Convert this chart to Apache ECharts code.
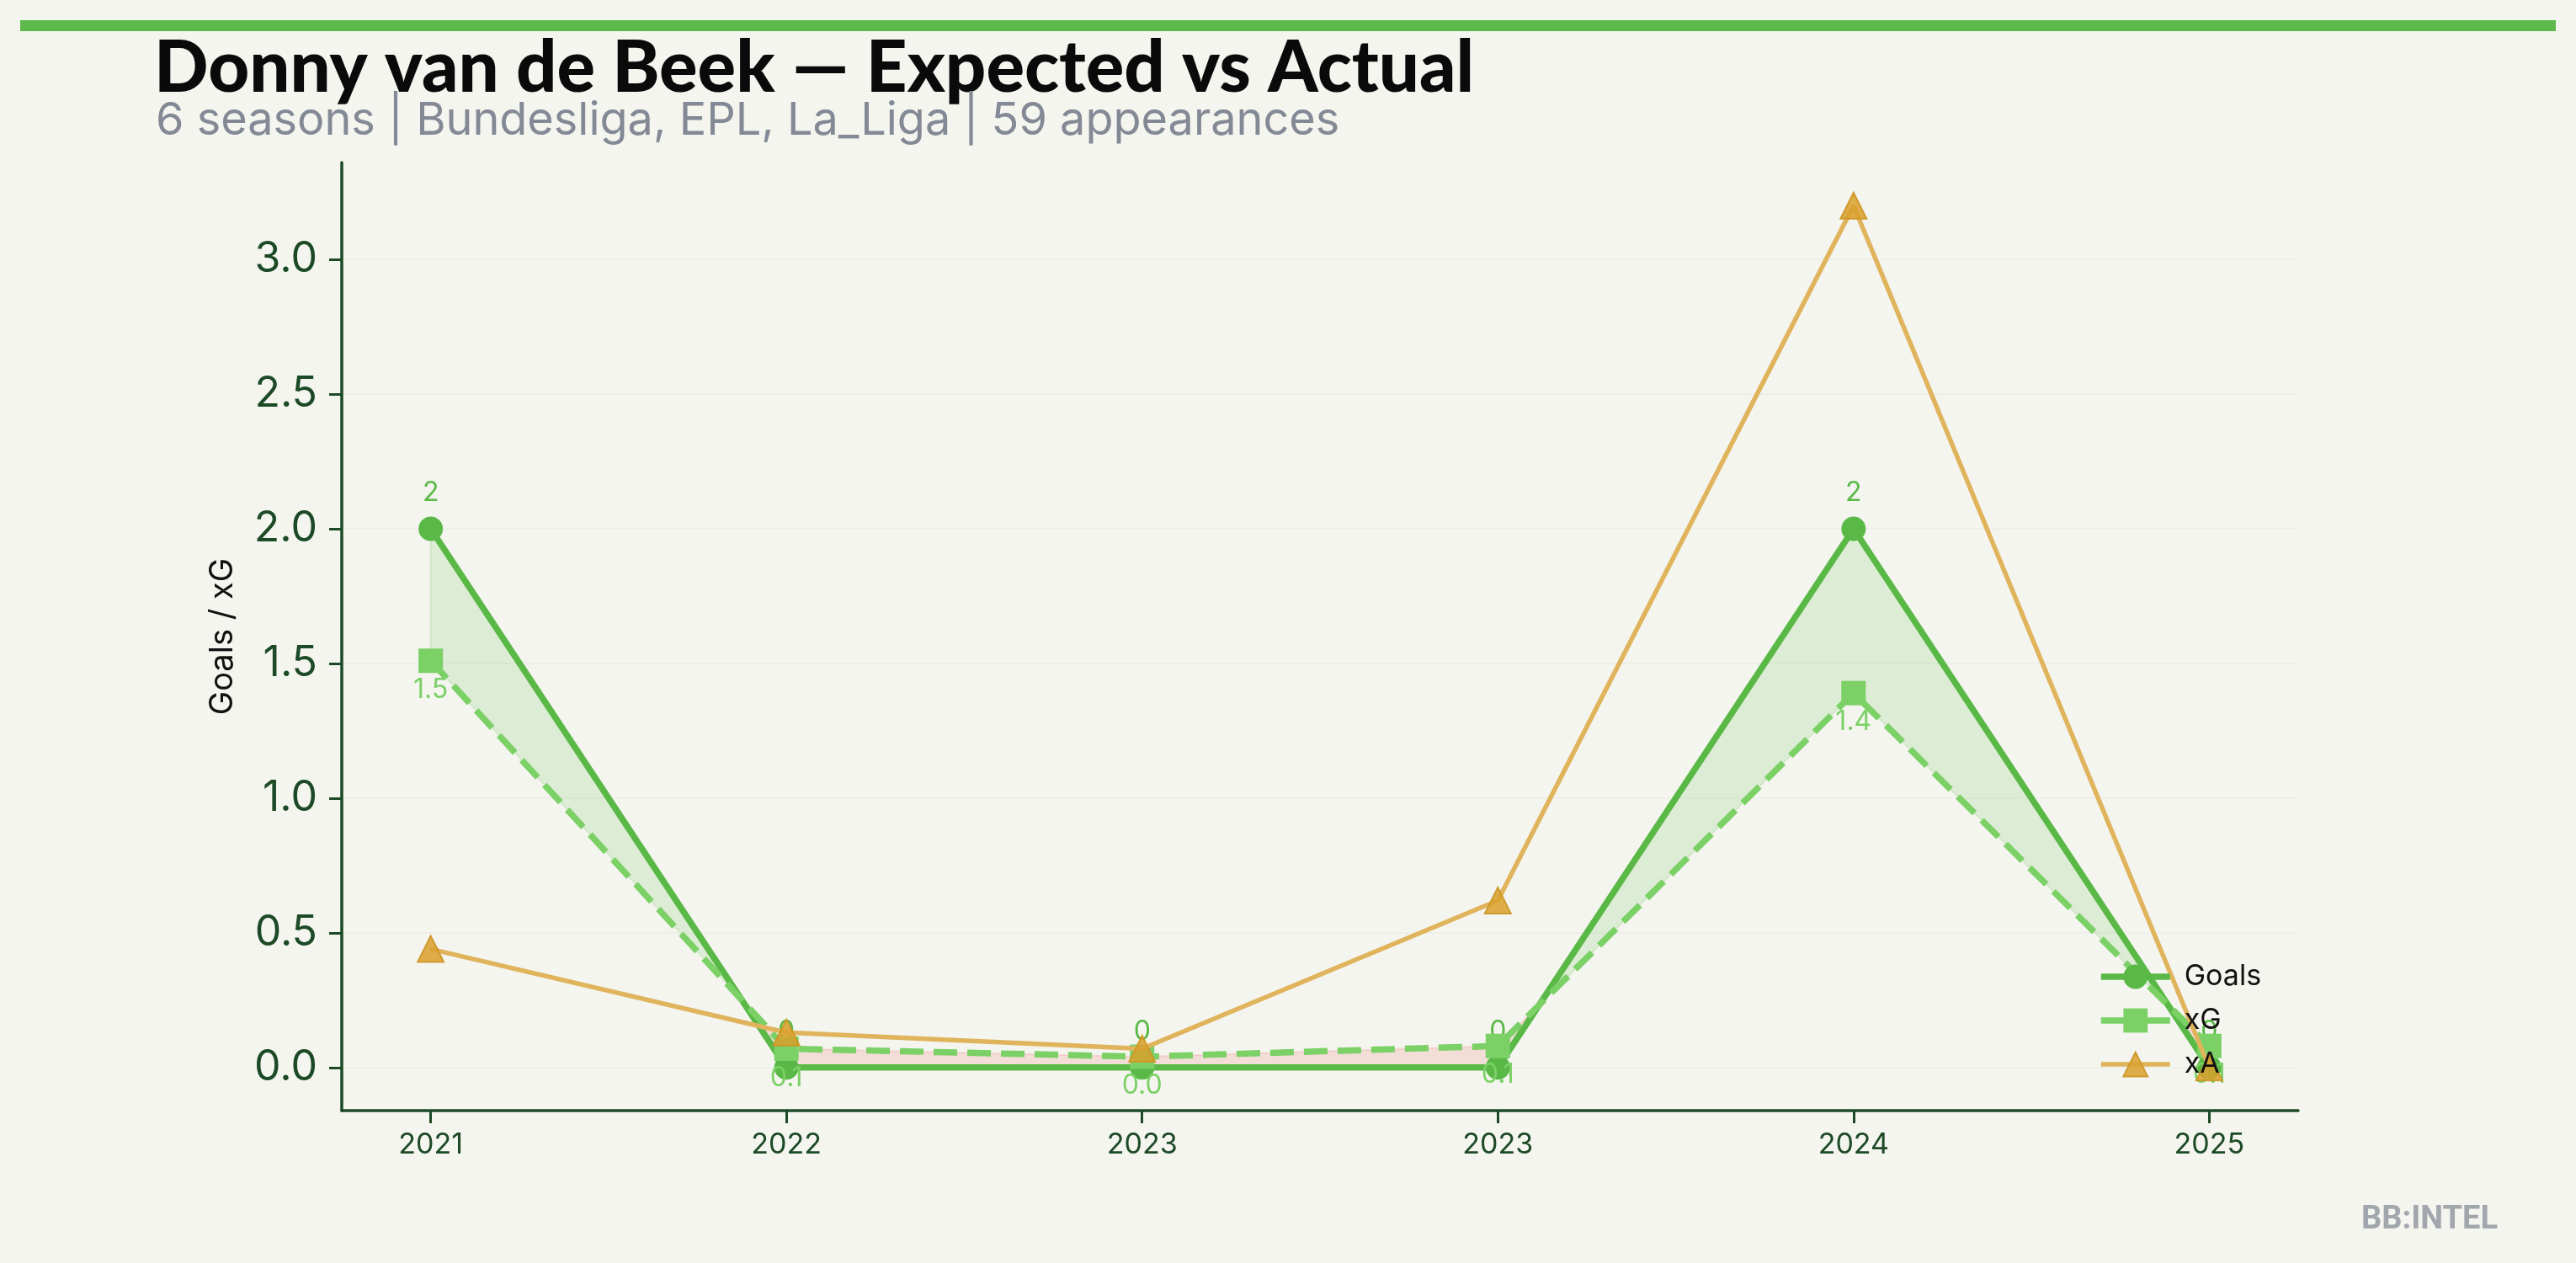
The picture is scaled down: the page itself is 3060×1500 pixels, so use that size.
<!DOCTYPE html>
<html>
<head>
<meta charset="utf-8">
<script src="https://cdn.jsdelivr.net/npm/echarts@6/dist/echarts.min.js"></script>
<style>
html,body{margin:0;padding:0;background:#f4f5ef;}
#chart{width:3060px;height:1500px;}
</style>
</head>
<body>
<div id="chart"></div>
<script>
const seasons = ['2021', '2022', '2023', '2023', '2024', '2025'];
const goals = [2, 0, 0, 0, 2, 0];
const xg = [1.51, 0.07, 0.04, 0.08, 1.39, 0.08];
const xa = [0.44, 0.13, 0.07, 0.62, 3.2, 0.0];
const yTicks = [0, 0.5, 1.0, 1.5, 2.0, 2.5, 3.0];
const xTicks = [0, 1, 2, 3, 4, 5];

const C_GOALS = '#5ab946';
const C_XG = '#7bd066';
const C_XA = '#e0b45c';
const AXIS = '#1d4a26';

// fill between goals and xG: split into contiguous sign runs (with interpolated crossings)
function renderFill(params, api) {
  const pts = [];
  for (let i = 0; i < goals.length; i++) {
    pts.push({ x: i, g: goals[i], e: xg[i] });
    if (i < goals.length - 1) {
      const d0 = goals[i] - xg[i], d1 = goals[i + 1] - xg[i + 1];
      if (d0 * d1 < 0) {
        const t = d0 / (d0 - d1);
        const yc = goals[i] + t * (goals[i + 1] - goals[i]);
        pts.push({ x: i + t, g: yc, e: yc, cross: true });
      }
    }
  }
  const runs = [];
  let cur = null;
  pts.forEach(p => {
    if (p.cross) {
      if (cur) { cur.pts.push(p); runs.push(cur); }
      cur = { sign: null, pts: [p] };
      return;
    }
    const s = (p.g - p.e) >= 0;
    if (!cur) cur = { sign: s, pts: [] };
    if (cur.sign === null) cur.sign = s;
    cur.pts.push(p);
  });
  if (cur) runs.push(cur);
  const children = runs.filter(r => r.pts.length > 1).map(r => {
    const top = r.pts.map(p => api.coord([p.x, p.g]));
    const bot = r.pts.slice().reverse().map(p => api.coord([p.x, p.e]));
    const col = r.sign ? 'rgba(91,185,70,0.15)' : 'rgba(232,90,80,0.15)';
    return {
      type: 'polygon',
      shape: { points: top.concat(bot) },
      style: { fill: col, stroke: col, lineWidth: 2 }
    };
  });
  return { type: 'group', children };
}

const chart = echarts.init(document.getElementById('chart'), null, { renderer: 'canvas' });
chart.setOption({
  backgroundColor: '#f4f5ef',
  animation: false,
  title: [
    {
      text: 'Donny van de Beek — Expected vs Actual',
      left: 178, top: 33,
      textStyle: { fontFamily: 'Lato', fontWeight: 900, fontSize: 85, color: '#0a0a0a', lineHeight: 88 }
    },
    {
      text: '6 seasons | Bundesliga, EPL, La_Liga | 59 appearances',
      left: 180, top: 110,
      textStyle: { fontFamily: 'Inter', fontWeight: 400, fontSize: 54, color: '#838995', lineHeight: 58 }
    }
  ],
  graphic: [
    { type: 'rect', left: 24, top: 24, shape: { width: 3012, height: 13 }, style: { fill: '#5cb94a' } },
    { type: 'text', right: 93, top: 1430, style: { text: 'BB:INTEL', font: 'bold 38px Roboto', fill: '#a2a6ad' } }
  ],
  grid: { left: 406, right: 330, top: 193, bottom: 181 },
  legend: {
    orient: 'vertical',
    z: 20, zlevel: 0,
    left: 2487, top: 1138,
    itemWidth: 82, itemHeight: 36, itemGap: 18,
    textStyle: { fontFamily: 'Inter', fontSize: 34, color: '#111', padding: [0, 0, 0, 12] },
    data: [
      { name: 'Goals', lineStyle: { width: 7.5, type: 'solid' } },
      { name: 'xG', lineStyle: { width: 7.5, type: 'solid' } },
      { name: 'xA', lineStyle: { width: 5.5, type: 'solid' } }
    ]
  },
  xAxis: {
    type: 'value',
    min: -0.25, max: 5.25,
    splitLine: { show: false },
    axisLine: { show: true, onZero: false, lineStyle: { color: AXIS, width: 3.5 } },
    axisTick: { show: true, customValues: xTicks, length: 15, lineStyle: { color: AXIS, width: 3 } },
    axisLabel: {
      customValues: xTicks, margin: 24,
      fontFamily: 'Inter', fontSize: 34, color: AXIS,
      formatter: v => seasons[Math.round(v)]
    }
  },
  yAxis: {
    type: 'value',
    min: -0.16, max: 3.36,
    name: 'Goals / xG',
    nameLocation: 'middle', nameGap: 122, nameRotate: 90,
    nameTextStyle: { fontFamily: 'Inter', fontSize: 38, color: '#111' },
    axisLine: { show: true, onZero: false, lineStyle: { color: AXIS, width: 3.5 } },
    axisTick: { show: true, customValues: yTicks, length: 15, lineStyle: { color: AXIS, width: 3 } },
    axisLabel: {
      customValues: yTicks, margin: 29,
      fontFamily: 'Inter', fontSize: 50, color: AXIS,
      formatter: v => v.toFixed(1)
    },
    splitLine: { show: true, lineStyle: { color: '#eeefe8', width: 2 } }
  },
  series: [
    {
      type: 'custom', name: 'fill', renderItem: renderFill,
      data: [[0, 0]], z: 1, silent: true,
      encode: { x: 0, y: 1 }
    },
    {
      type: 'line', name: 'Goals', z: 3,
      data: goals.map((v, i) => [i, v]),
      symbol: 'circle', symbolSize: 29,
      lineStyle: { color: C_GOALS, width: 7.5 },
      itemStyle: { color: C_GOALS },
      label: { show: true, position: 'top', distance: 12, fontFamily: 'Inter', fontSize: 32, color: C_GOALS,
        formatter: p => String(p.value[1]) }
    },
    {
      type: 'line', name: 'xG', z: 4,
      data: xg.map((v, i) => [i, v]),
      symbol: 'rect', symbolSize: 29,
      lineStyle: { color: C_XG, width: 7.5, type: [28, 12] },
      itemStyle: { color: C_XG },
      label: { show: true, position: 'bottom', distance: 4, fontFamily: 'Inter', fontSize: 32, color: C_XG,
        formatter: p => p.value[1].toFixed(1) }
    },
    {
      type: 'line', name: 'xA', z: 5,
      data: xa.map((v, i) => [i, v]),
      symbol: 'triangle', symbolSize: 31,
      lineStyle: { color: C_XA, width: 5.5 },
      itemStyle: { color: 'rgba(217,160,45,0.85)', borderColor: 'rgba(205,150,35,0.9)', borderWidth: 2 }
    }
  ]
});
</script>
</body>
</html>
